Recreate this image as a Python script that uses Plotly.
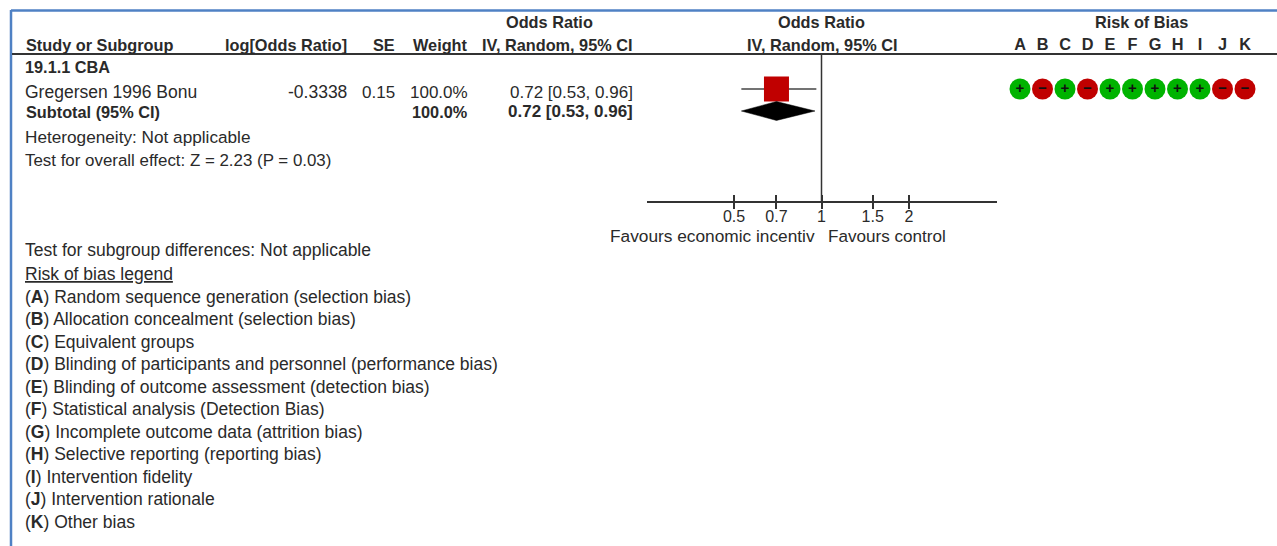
import math
import plotly.graph_objects as go

W, H = 1277, 546

# ---- data ----
study_name = "Gregersen 1996 Bonu"
log_or = "-0.3338"
se = "0.15"
weight = "100.0%"
or_text = "0.72 [0.53, 0.96]"
or_point = [0.70]
or_low = [0.53]
or_high = [0.96]
sub_low = 0.53
sub_point = 0.70
sub_high = 0.95
tick_vals = [0.5, 0.7, 1, 1.5, 2]
tick_text = ["0.5", "0.7", "1", "1.5", "2"]
rob_domains = ["A", "B", "C", "D", "E", "F", "G", "H", "I", "J", "K"]
rob_signs = ["+", "-", "+", "-", "+", "+", "+", "+", "+", "-", "-"]
legend_letters = ["A", "B", "C", "D", "E", "F", "G", "H", "I", "J", "K"]
legend_texts = [
    "Random sequence generation (selection bias)",
    "Allocation concealment (selection bias)",
    "Equivalent groups",
    "Blinding of participants and personnel (performance bias)",
    "Blinding of outcome assessment (detection bias)",
    "Statistical analysis (Detection Bias)",
    "Incomplete outcome data (attrition bias)",
    "Selective reporting (reporting bias)",
    "Intervention fidelity",
    "Intervention rationale",
    "Other bias",
]

FONT = "Liberation Sans"
TXT = "#2a2a2a"
FS = 17.2   # regular text
FB = 16.3   # bold text
GREEN, RED = "#00b300", "#c00000"


def px(x):
    return x / W


def py(y):
    return 1 - y / H


annotations = []


def label(x, y, text, anchor="left", size=FS, color=TXT):
    annotations.append(dict(
        x=px(x), y=py(y), xref="paper", yref="paper", text=text, showarrow=False,
        xanchor=anchor, yanchor="middle", align=anchor, borderpad=0, borderwidth=0,
        font=dict(family=FONT, size=size, color=color),
    ))


# header
label(549, 22, "<b>Odds Ratio</b>", "center", FB)
label(821, 22, "<b>Odds Ratio</b>", "center", FB)
label(1141, 22, "<b>Risk of Bias</b>", "center", FB)
label(26, 45, "<b>Study or Subgroup</b>", "left", FB)
label(347, 45, "<b>log[Odds Ratio]</b>", "right", FB)
label(395, 45, "<b>SE</b>", "right", FB)
label(468, 45, "<b>Weight</b>", "right", FB)
label(633, 45, "<b>IV, Random, 95% CI</b>", "right", FB)
label(822, 45, "<b>IV, Random, 95% CI</b>", "center", FB)

# table rows
label(25, 67, "<b>19.1.1 CBA</b>", "left", FB)
label(25, 92, study_name, "left", 17.5)
label(347, 92, log_or, "right", 17.5)
label(395, 92, se, "right", 17)
label(468, 92, weight, "right", 17)
label(633, 92, or_text, "right", 17)
label(26, 112, "<b>Subtotal (95% CI)</b>", "left", FB)
label(468, 112, "<b>" + weight + "</b>", "right", FB)
label(633, 112, "<b>" + or_text + "</b>", "right", 17)
label(25, 137, "Heterogeneity: Not applicable", "left", 17.2)
label(25, 160, "Test for overall effect: Z = 2.23 (P = 0.03)", "left", 16.9)
label(25, 250, "Test for subgroup differences: Not applicable", "left", 17.5)
label(25, 274, "<u>Risk of bias legend</u>", "left", 17.5)
for i, (let, txt) in enumerate(zip(legend_letters, legend_texts)):
    label(25, 296.5 + i * 22.5, f"(<b>{let}</b>) {txt}", "left", 17.5)

# favours
label(815, 236, "Favours economic incentiv", "right", 17.3)
label(828, 236, "Favours control", "left", 17.1)

rng = [math.log10(0.25), math.log10(4)]
fig = go.Figure()

# forest plot
fig.add_trace(go.Scatter(x=[or_low[0], or_high[0]], y=[1, 1], mode="lines",
                         line=dict(color="#444444", width=1.5), hoverinfo="skip"))
fig.add_trace(go.Scatter(x=or_point, y=[1], mode="markers",
                         marker=dict(symbol="square", size=25, color="#c00000", line=dict(width=0)),
                         hoverinfo="skip"))
fig.add_trace(go.Scatter(x=[sub_low, sub_point, sub_high, sub_point, sub_low], y=[2, 1.57, 2, 2.43, 2],
                         mode="lines", fill="toself", fillcolor="#000000",
                         line=dict(color="#000000", width=0.5), hoverinfo="skip"))

# risk of bias
fig.add_trace(go.Scatter(x=rob_domains, y=[1] * len(rob_domains), xaxis="x2", yaxis="y",
                         mode="markers+text",
                         marker=dict(symbol="circle", size=21,
                                     color=[GREEN if s == "+" else RED for s in rob_signs], line=dict(width=0)),
                         text=["<b>+</b>" if s == "+" else "<b>\u2212</b>" for s in rob_signs],
                         textposition="middle center",
                         textfont=dict(family=FONT, size=15, color="#101010"), hoverinfo="skip"))

# overlay trace so the upper half of the ticks exists
fig.add_trace(go.Scatter(x=tick_vals, y=[None] * 5, xaxis="x3", yaxis="y", mode="lines", hoverinfo="skip"))

dom_f = [px(646.5), px(996.5)]
fig.update_layout(
    width=W, height=H, autosize=False,
    margin=dict(l=0, r=0, t=0, b=0),
    paper_bgcolor="white", plot_bgcolor="rgba(0,0,0,0)",
    showlegend=False,
    xaxis=dict(type="log", range=rng, domain=dom_f, anchor="y", side="bottom",
               tickvals=tick_vals, ticktext=tick_text, ticks="outside", ticklen=6, tickwidth=1.5,
               tickcolor="#333333", showline=True, linecolor="#333333", linewidth=2, showgrid=False,
               zeroline=False, ticklabelstandoff=-6, tickfont=dict(family=FONT, size=16, color=TXT)),
    xaxis3=dict(type="log", range=rng, domain=dom_f, anchor="y", overlaying="x", side="bottom",
                tickvals=tick_vals, ticktext=[""] * 5, ticks="inside", ticklen=6, tickwidth=1.5,
                tickcolor="#333333", showline=False, showgrid=False, zeroline=False),
    xaxis2=dict(type="category", categoryorder="array", categoryarray=rob_domains,
                range=[-0.5, 10.5], domain=[px(1008.75), px(1256.25)], anchor="y2", side="top",
                ticks="", showline=False, showgrid=False, zeroline=False,
                tickfont=dict(family=FONT, size=FB, color=TXT), tickprefix="<b>", ticksuffix="</b>"),
    yaxis=dict(range=[6.09, -0.59], domain=[py(201), py(54)], anchor="x", visible=False,
               showgrid=False, zeroline=False),
    yaxis2=dict(range=[0, 1], domain=[py(201), py(54)], anchor="x2", visible=False, overlaying="y"),
    annotations=annotations,
    shapes=[
        dict(type="line", xref="paper", yref="paper", x0=px(11), x1=1, y0=py(10.5), y1=py(10.5),
             line=dict(color="#4f81c4", width=2.5)),
        dict(type="line", xref="paper", yref="paper", x0=px(11), x1=px(11), y0=py(10), y1=0,
             line=dict(color="#4f81c4", width=2.5)),
        dict(type="line", xref="paper", yref="paper", x0=px(12), x1=1, y0=py(54), y1=py(54),
             line=dict(color="#333333", width=1.8)),
        dict(type="line", xref="x", yref="y domain", x0=1, x1=1, y0=0, y1=1,
             line=dict(color="#333333", width=1.5)),
    ],
)
fig.write_html("out.html", post_script="document.body.style.margin='0';",
               config={"displayModeBar": False})
